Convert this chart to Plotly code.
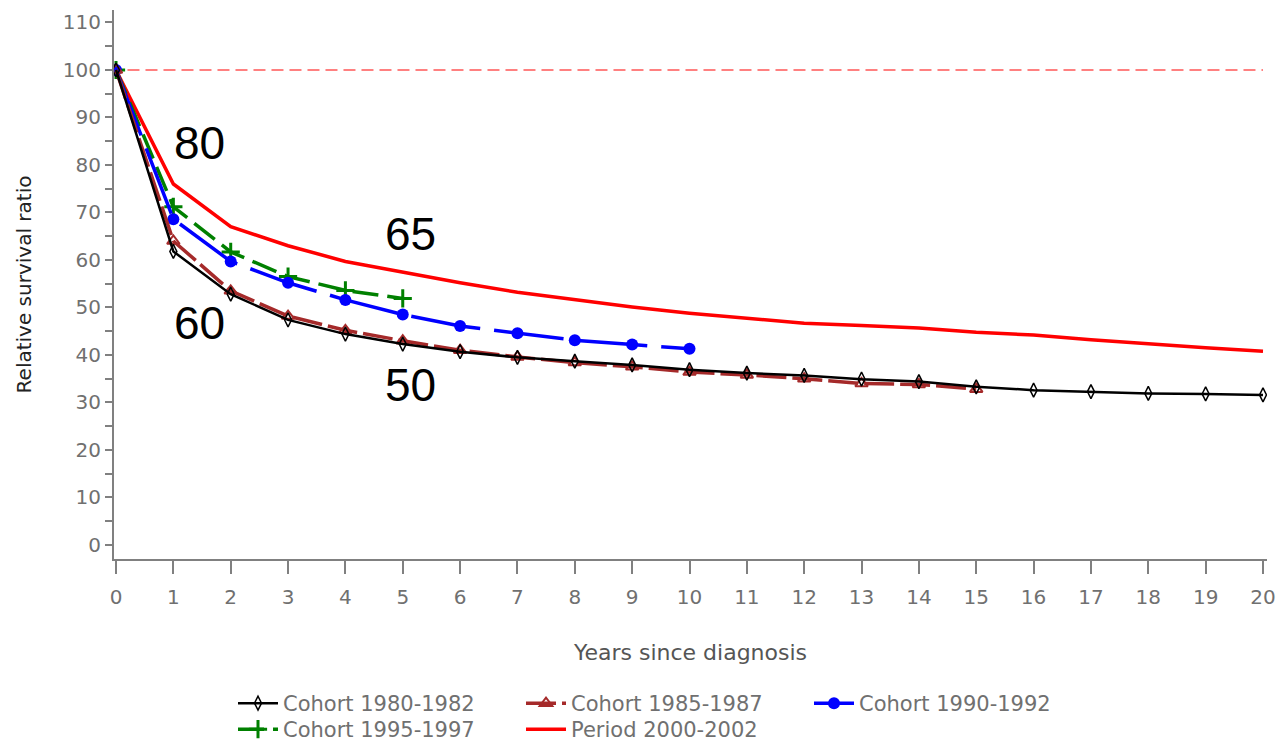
import plotly.graph_objects as go

# ---- data ----
years_1980 = list(range(0, 21))
cohort_1980 = [100, 61.8, 52.8, 47.4, 44.4, 42.3, 40.7, 39.5, 38.7, 37.9, 36.9,
               36.2, 35.7, 34.9, 34.4, 33.3, 32.6, 32.3, 31.9, 31.8, 31.6]
years_1985 = list(range(0, 16))
cohort_1985 = [100, 64.0, 53.5, 48.2, 45.2, 43.0, 41.0, 39.6, 38.4, 37.5, 36.4,
               35.8, 35.0, 34.0, 33.8, 32.8]
years_1990 = list(range(0, 11))
cohort_1990 = [100, 68.6, 59.7, 55.2, 51.6, 48.5, 46.1, 44.6, 43.1, 42.2, 41.3]
years_1995 = list(range(0, 6))
cohort_1995 = [100, 71.2, 61.7, 56.5, 53.6, 51.9]
years_2000 = list(range(0, 21))
period_2000 = [100, 76.0, 67.0, 63.0, 59.7, 57.4, 55.2, 53.2, 51.6, 50.1, 48.8,
               47.8, 46.7, 46.2, 45.7, 44.8, 44.2, 43.2, 42.3, 41.5, 40.8]
ref_x = [0.2, 20]
ref_y = [100, 100]

age_labels = ["80", "65", "60", "50"]
age_x = [1.45, 5.13, 1.45, 5.13]
age_y = [84.7, 65.5, 46.7, 33.7]

FONT = "DejaVu Sans"
GREY = "#707070"
AXIS = "#808080"

W, H = 1278, 744

fig = go.Figure()

fig.add_trace(go.Scatter(x=ref_x, y=ref_y, mode="lines", showlegend=False,
                         line=dict(color="#ff8080", width=2, dash="12px,6px"),
                         hoverinfo="skip"))

fig.add_trace(go.Scatter(x=years_2000, y=period_2000, mode="lines", name="Period 2000-2002",
                         line=dict(color="#ff0000", width=3.5), legend="legend2", legendrank=2))
fig.add_trace(go.Scatter(x=years_1995, y=cohort_1995, mode="lines+markers", name="Cohort 1995-1997",
                         line=dict(color="#008000", width=3.5, dash="26px,9px"),
                         marker=dict(symbol="cross-thin-open", size=13,
                                     line=dict(color="#008000", width=3)),
                         legend="legend2", legendrank=1))
fig.add_trace(go.Scatter(x=years_1990, y=cohort_1990, mode="lines+markers", name="Cohort 1990-1992",
                         line=dict(color="#0000ff", width=3.5, dash="70px,14px"),
                         marker=dict(symbol="circle", size=12, color="#0000ff"), legendrank=3))
fig.add_trace(go.Scatter(x=years_1985, y=cohort_1985, mode="lines+markers", name="Cohort 1985-1987",
                         line=dict(color="#a52a2a", width=3.5, dash="30px,6px"),
                         marker=dict(symbol="triangle-up-open", size=11,
                                     line=dict(color="#a52a2a", width=2)), legendrank=2))
fig.add_trace(go.Scatter(x=years_1980, y=cohort_1980, mode="lines+markers", name="Cohort 1980-1982",
                         line=dict(color="#000000", width=2.5),
                         marker=dict(symbol="diamond-tall-open", size=10,
                                     line=dict(color="#000000", width=1.5)), legendrank=1))

for t, xx, yy in zip(age_labels, age_x, age_y):
    fig.add_annotation(x=xx, y=yy, text=t, showarrow=False,
                       font=dict(family="Liberation Sans", size=46, color="#000000"))

legend_common = dict(orientation="h", xref="container", yref="container",
                     x=233 / W, xanchor="left", yanchor="top",
                     font=dict(family=FONT, size=21, color=GREY),
                     entrywidth=233, entrywidthmode="pixels", itemwidth=40,
                     traceorder="normal", tracegroupgap=0, bgcolor="rgba(0,0,0,0)")

fig.update_layout(
    width=W, height=H,
    margin=dict(l=114, r=11, t=10, b=185, autoexpand=False),
    plot_bgcolor="white", paper_bgcolor="white",
    font=dict(family=FONT, size=20, color=GREY),
    showlegend=True,
    legend=dict(legend_common, y=1 - 683 / H),
    legend2=dict(legend_common, y=1 - 709 / H),
    xaxis=dict(range=[-0.035, 20.07], showline=True, linecolor=AXIS, linewidth=2,
               showgrid=False, zeroline=False, tickmode="linear", tick0=0, dtick=1,
               ticks="outside", ticklen=13, tickwidth=2, tickcolor=AXIS, automargin=False,
               tickfont=dict(family=FONT, size=20, color=GREY), ticklabelstandoff=6,
               ticklabeloverflow="allow",
               title=dict(text="Years since diagnosis", standoff=37,
                          font=dict(family=FONT, size=22, color="#555555"))),
    yaxis=dict(range=[-2.95, 112.63], showline=True, linecolor=AXIS, linewidth=2,
               showgrid=False, zeroline=False, tickmode="linear", tick0=0, dtick=10,
               ticks="outside", ticklen=7, tickwidth=2, tickcolor=AXIS, automargin=False,
               tickfont=dict(family=FONT, size=20, color=GREY),
               minor=dict(dtick=5, ticks="outside", ticklen=7, tickwidth=2, tickcolor=AXIS, showgrid=False),
               title=dict(text="Relative survival ratio", standoff=26,
                          font=dict(family=FONT, size=20, color="#222222"))),
)

fig.write_html("out.html", config={"displayModeBar": False},
               post_script="document.body.style.margin='0';document.body.style.overflow='hidden';")
